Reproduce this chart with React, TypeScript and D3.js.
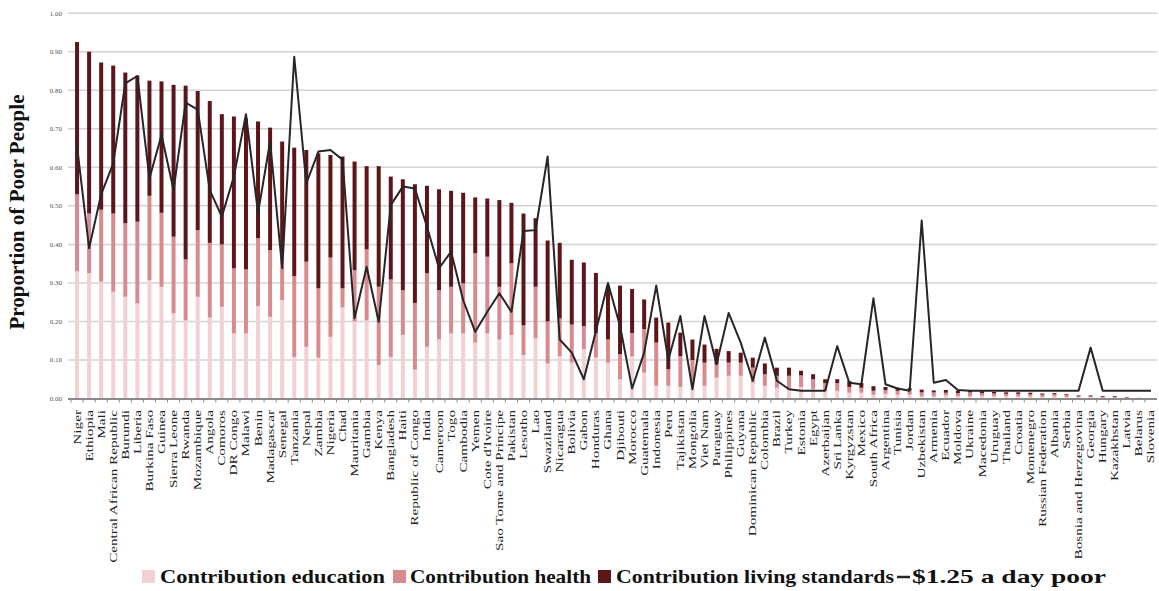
import React from 'react';
import * as d3 from 'd3';

const countries = [
  'Niger', 'Ethiopia', 'Mali', 'Central African Republic', 'Burundi', 'Liberia', 'Burkina Faso', 'Guinea',
  'Sierra Leone', 'Rwanda', 'Mozambique', 'Angola', 'Comoros', 'DR Congo', 'Malawi', 'Benin', 'Madagascar',
  'Senegal', 'Tanzania', 'Nepal', 'Zambia', 'Nigeria', 'Chad', 'Mauritania', 'Gambia', 'Kenya', 'Bangladesh',
  'Haiti', 'Republic of Congo', 'India', 'Cameroon', 'Togo', 'Cambodia', 'Yemen', "Cote d'Ivoire",
  'Sao Tome and Principe', 'Pakistan', 'Lesotho', 'Lao', 'Swaziland', 'Nicaragua', 'Bolivia', 'Gabon',
  'Honduras', 'Ghana', 'Djibouti', 'Morocco', 'Guatemala', 'Indonesia', 'Peru', 'Tajikistan', 'Mongolia',
  'Viet Nam', 'Paraguay', 'Philippines', 'Guyana', 'Dominican Republic', 'Colombia', 'Brazil', 'Turkey',
  'Estonia', 'Egypt', 'Azerbaijan', 'Sri Lanka', 'Kyrgyzstan', 'Mexico', 'South Africa', 'Argentina',
  'Tunisia', 'Jordan', 'Uzbekistan', 'Armenia', 'Ecuador', 'Moldova', 'Ukraine', 'Macedonia', 'Uruguay',
  'Thailand', 'Croatia', 'Montenegro', 'Russian Federation', 'Albania', 'Serbia', 'Bosnia and Herzegovina',
  'Georgia', 'Hungary', 'Kazakhstan', 'Latvia', 'Belarus', 'Slovenia'
];

const education = [
  0.33, 0.325, 0.303, 0.277, 0.264, 0.247, 0.307, 0.29, 0.221, 0.203, 0.264, 0.21, 0.238, 0.169, 0.169, 0.24,
  0.212, 0.255, 0.108, 0.134, 0.106, 0.16, 0.236, 0.2, 0.203, 0.087, 0.108, 0.165, 0.075, 0.134, 0.153, 0.169,
  0.169, 0.145, 0.169, 0.153, 0.165, 0.113, 0.156, 0.091, 0.11, 0.093, 0.128, 0.106, 0.093, 0.05, 0.11, 0.067,
  0.033, 0.033, 0.03, 0.041, 0.033, 0.054, 0.059, 0.059, 0.041, 0.033, 0.028, 0.024, 0.03, 0.025, 0.02, 0.02,
  0.015, 0.015, 0.01, 0.012, 0.01, 0.01, 0.006, 0.006, 0.008, 0.006, 0.006, 0.007, 0.006, 0.006, 0.005, 0.005,
  0.004, 0.005, 0.004, 0.003, 0.003, 0.002, 0.002, 0.001, 0.001, 0
];

const health = [
  0.2, 0.155, 0.187, 0.203, 0.191, 0.212, 0.219, 0.192, 0.199, 0.158, 0.173, 0.194, 0.162, 0.169, 0.166, 0.176,
  0.173, 0.122, 0.21, 0.221, 0.18, 0.206, 0.05, 0.133, 0.184, 0.203, 0.201, 0.116, 0.173, 0.191, 0.128, 0.121,
  0.13, 0.232, 0.199, 0.137, 0.186, 0.077, 0.134, 0.109, 0.098, 0.099, 0.06, 0.064, 0.06, 0.065, 0.06, 0.113,
  0.112, 0.043, 0.08, 0.059, 0.06, 0.035, 0.034, 0.034, 0.039, 0.03, 0.031, 0.035, 0.03, 0.025, 0.02, 0.02,
  0.015, 0.013, 0.01, 0.01, 0.01, 0.012, 0.01, 0.01, 0.007, 0.008, 0.01, 0.007, 0.007, 0.006, 0.007, 0.006,
  0.006, 0.006, 0.005, 0.003, 0.003, 0.002, 0.002, 0.002, 0.001, 0.001
];

const livingStandards = [
  0.395, 0.42, 0.382, 0.384, 0.391, 0.379, 0.299, 0.341, 0.394, 0.451, 0.361, 0.368, 0.338, 0.394, 0.392, 0.303,
  0.318, 0.29, 0.333, 0.29, 0.35, 0.266, 0.342, 0.282, 0.216, 0.313, 0.267, 0.288, 0.308, 0.227, 0.262, 0.249,
  0.235, 0.145, 0.151, 0.225, 0.157, 0.29, 0.178, 0.21, 0.196, 0.168, 0.165, 0.156, 0.14, 0.178, 0.114, 0.077,
  0.065, 0.121, 0.061, 0.053, 0.047, 0.04, 0.03, 0.026, 0.026, 0.028, 0.021, 0.021, 0.012, 0.013, 0.01, 0.01,
  0.015, 0.012, 0.012, 0.008, 0.008, 0.005, 0.007, 0.005, 0.007, 0.006, 0.004, 0.005, 0.004, 0.004, 0.004, 0.004,
  0.003, 0.003, 0.002, 0.002, 0.002, 0.002, 0.002, 0.001, 0, 0
];

const poor125 = [
  0.655, 0.39, 0.53, 0.61, 0.818, 0.837, 0.571, 0.684, 0.541, 0.768, 0.75, 0.541, 0.472, 0.576, 0.738, 0.481,
  0.667, 0.338, 0.887, 0.558, 0.641, 0.645, 0.62, 0.208, 0.342, 0.199, 0.502, 0.55, 0.545, 0.446, 0.338, 0.381,
  0.255, 0.173, 0.225, 0.273, 0.225, 0.435, 0.437, 0.628, 0.153, 0.119, 0.05, 0.175, 0.3, 0.188, 0.026, 0.119,
  0.293, 0.1, 0.214, 0.024, 0.214, 0.089, 0.222, 0.145, 0.046, 0.158, 0.046, 0.024, 0.02, 0.02, 0.02, 0.136,
  0.041, 0.037, 0.26, 0.037, 0.026, 0.02, 0.462, 0.041, 0.048, 0.022, 0.02, 0.02, 0.02, 0.02, 0.02, 0.02,
  0.02, 0.02, 0.02, 0.02, 0.132, 0.02, 0.02, 0.02, 0.02, 0.02
];

const yTicks = [0, 0.1, 0.2, 0.3, 0.4, 0.5, 0.6, 0.7, 0.8, 0.9, 1.0];

const legendItems = [
  { key: 'education', label: 'Contribution education' },
  { key: 'health', label: 'Contribution health' },
  { key: 'living', label: 'Contribution living standards' },
];

const colors: Record<string, string> = {
  education: '#f3d0d3',
  health: '#d98a8f',
  living: '#5c1519',
};

export default function App() {
  const W = 1159;
  const H = 591;
  const x = d3.scaleBand<string>().domain(countries).range([71, 1157]).paddingInner(0.67).paddingOuter(0.335);
  const y = d3.scaleLinear().domain([0, 1]).range([398.5, 13.2]);
  const rows = countries.map((c, i) => ({
    country: c,
    education: education[i],
    health: health[i],
    living: livingStandards[i],
  }));
  const series = d3.stack<any>().keys(['education', 'health', 'living'])(rows);
  const cx = (c: string) => (x(c) as number) + x.bandwidth() / 2;
  const linePath = d3
    .line<number>()
    .x((_, i) => cx(countries[i]))
    .y((d) => y(d))(poor125) as string;

  const serif = "'Liberation Serif', 'DejaVu Serif', serif";
  const plotLeft = 68;
  const plotRight = 1157;

  return (
    <svg width={W} height={H} style={{ position: 'absolute', left: 0, top: 0, background: '#fff' }}>
      {yTicks.map((t) => (
        <g key={t}>
          {t > 0 && (
            <line x1={plotLeft} x2={plotRight} y1={y(t)} y2={y(t)} stroke="#d4d4d4" strokeWidth={1.5} />
          )}
          <text x={62} y={y(t) + 2.5} textAnchor="end" fontFamily={serif} fontSize={7} fill="#555">
            {t.toFixed(2)}
          </text>
        </g>
      ))}
      {series.map((s) => (
        <g key={s.key} fill={colors[s.key]}>
          {s.map((d: any, i: number) => (
            <rect
              key={i}
              x={x(countries[i])}
              width={x.bandwidth()}
              y={y(d[1])}
              height={Math.max(0, y(d[0]) - y(d[1]))}
            />
          ))}
        </g>
      ))}
      <line x1={plotLeft} x2={plotRight} y1={y(0) + 0.5} y2={y(0) + 0.5} stroke="#8a8a8a" strokeWidth={2} />
      {countries.map((c, i) => (
        <line
          key={'t' + i}
          x1={(x(c) as number) - (x.step() - x.bandwidth()) / 2}
          x2={(x(c) as number) - (x.step() - x.bandwidth()) / 2}
          y1={y(0) + 1}
          y2={y(0) + 4}
          stroke="#8a8a8a"
          strokeWidth={1}
        />
      ))}
      <path d={linePath} fill="none" stroke="#262626" strokeWidth={2} strokeLinejoin="round" />
      {countries.map((c) => (
        <text
          key={'l' + c}
          transform={`translate(${cx(c) + 3.5},410) rotate(-90) scale(1.45,1)`}
          textAnchor="end"
          fontFamily={serif}
          fontSize={10.5}
          fill="#222"
        >
          {c}
        </text>
      ))}
      <text
        transform="translate(24,212) rotate(-90)"
        textAnchor="middle"
        fontFamily={serif}
        fontWeight="bold"
        fontSize={20}
        fill="#111"
        textLength={235}
        lengthAdjust="spacingAndGlyphs"
      >
        Proportion of  Poor People
      </text>
      {/* legend */}
      <rect x={142} y={570} width={13} height={13} fill={colors.education} />
      <text x={160} y={583} fontFamily={serif} fontWeight="bold" fontSize={19} fill="#111" textLength={225} lengthAdjust="spacingAndGlyphs">
        {legendItems[0].label}
      </text>
      <rect x={393} y={570} width={13} height={13} fill={colors.health} />
      <text x={410} y={583} fontFamily={serif} fontWeight="bold" fontSize={19} fill="#111" textLength={181} lengthAdjust="spacingAndGlyphs">
        {legendItems[1].label}
      </text>
      <rect x={598} y={570} width={13} height={13} fill={colors.living} />
      <text x={616} y={583} fontFamily={serif} fontWeight="bold" fontSize={19} fill="#111" textLength={278} lengthAdjust="spacingAndGlyphs">
        {legendItems[2].label}
      </text>
      <line x1={897} x2={910} y1={577} y2={577} stroke="#262626" strokeWidth={2.5} />
      <text x={912} y={583} fontFamily={serif} fontWeight="bold" fontSize={19} fill="#111" textLength={194} lengthAdjust="spacingAndGlyphs">
        $1.25 a day poor
      </text>
    </svg>
  );
}
